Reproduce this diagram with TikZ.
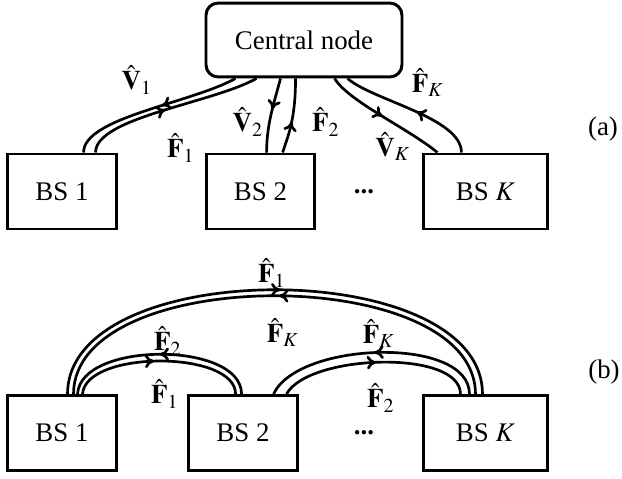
\documentclass[tikz,border=0pt]{standalone}
\usepackage{mathptmx}
\usepackage{fontspec}
\setmainfont{Liberation Serif}
\usetikzlibrary{calc,decorations.markings,arrows.meta}

\tikzset{
  px/.style={x=0.372pt,y=-0.372pt},
  box/.style={draw, line width=1.1pt, minimum height=27.9pt, inner sep=0pt},
  link/.style={line width=1pt},
  flowat/.style={postaction={decorate},
    decoration={markings,mark=at position #1 with {\arrow{To[length=3.4pt,width=5pt]}}}},
  lbl/.style={inner sep=0pt},
}

\begin{document}
\begin{tikzpicture}[px, font=\fontsize{10}{12}\selectfont]
\useasboundingbox (0,0) rectangle (622,479);

% ---------------- (a) star topology ----------------
\node[box, rounded corners=4.5pt, minimum width=72.9pt, minimum height=27.5pt] (cn) at (304,40) {Central node};
\node[box, minimum width=40.9pt] (a1) at (62,191.5) {BS 1};
\node[box, minimum width=40.5pt] (a2) at (260.5,191.5) {BS 2};
\node[box, minimum width=45.8pt] (aK) at (485.5,191.5) {BS $K$};
\node[lbl] (adots) at (364,192) {\textbf{...}};
\node[lbl] (atag) at (603,129) {(a)};

% end points on the borders
\coordinate (c1) at ($(cn.south west)+(31,0)$);
\coordinate (c2) at ($(cn.south west)+(52,0)$);
\coordinate (c3) at ($(cn.south west)+(76,0)$);
\coordinate (c4) at ($(cn.south west)+(91,0)$);
\coordinate (c5) at ($(cn.south west)+(130,0)$);
\coordinate (c6) at ($(cn.south west)+(143,0)$);
\coordinate (p1) at ($(a1.north west)+(78,0)$);
\coordinate (p2) at ($(a1.north west)+(90,0)$);
\coordinate (p3) at ($(a2.north west)+(62,0)$);
\coordinate (p4) at ($(a2.north west)+(78,0)$);
\coordinate (p5) at ($(aK.north west)+(15,0)$);
\coordinate (p6) at ($(aK.north west)+(39,0)$);

% V_1 down, F_1 up
\draw[link, flowat=0.45] (c1) .. controls ($(c1)+(-45,25)$) and ($(p1)+(0,-35)$) .. (p1);
\draw[link, flowat=0.47] (p2) .. controls ($(p2)+(0,-35)$) and ($(c2)+(-45,25)$) .. (c2);
% V_2 down, F_2 up
\draw[link, flowat=0.42] (c3) .. controls ($(c3)+(-6,23)$) and ($(p3)+(0,-29)$) .. (p3);
\draw[link, flowat=0.42] (p4) .. controls ($(p4)+(6,-18)$) and ($(c4)+(0,40)$) .. (c4);
% V_K down, F_K up
\draw[link, flowat=0.48] (c5) .. controls ($(c5)+(14,23)$) and ($(p5)+(-29,-24)$) .. (p5);
\draw[link, flowat=0.45] (p6) .. controls ($(p6)+(0,-35)$) and ($(c6)+(25,22)$) .. (c6);

\node[lbl] (lV1) at (137,80) {$\hat{\mathbf{V}}_1$};
\node[lbl] (lF1) at (181,148) {$\hat{\mathbf{F}}_1$};
\node[lbl] (lV2) at (248,122) {$\hat{\mathbf{V}}_2$};
\node[lbl] (lF2) at (326,122) {$\hat{\mathbf{F}}_2$};
\node[lbl] (lFK) at (428,83) {$\hat{\mathbf{F}}_K$};
\node[lbl] (lVK) at (393,147) {$\hat{\mathbf{V}}_K$};

% ---------------- (b) fully connected ----------------
\node[box, minimum width=40.9pt] (b1) at (62,433) {BS 1};
\node[box, minimum width=40.9pt] (b2) at (243,433) {BS 2};
\node[box, minimum width=45.8pt] (bK) at (485.5,433) {BS $K$};
\node[lbl] (bdots) at (364,433) {\textbf{...}};
\node[lbl] (btag) at (604,372) {(b)};

\coordinate (q1) at ($(b1.north west)+(62,0)$);
\coordinate (q2) at ($(b1.north west)+(68,0)$);
\coordinate (q3) at ($(b1.north west)+(72,0)$);
\coordinate (q4) at ($(b1.north west)+(77,0)$);
\coordinate (r1) at ($(b2.north west)+(49,0)$);
\coordinate (r2) at ($(b2.north west)+(55,0)$);
\coordinate (r3) at ($(b2.north west)+(87,0)$);
\coordinate (r4) at ($(b2.north west)+(100,0)$);
\coordinate (t1) at ($(bK.north west)+(38,0)$);
\coordinate (t2) at ($(bK.north west)+(47,0)$);
\coordinate (t3) at ($(bK.north west)+(53,0)$);
\coordinate (t4) at ($(bK.north west)+(60,0)$);

% BS 1 <-> BS K
\draw[link, flowat=0.51] (q1) .. controls ($(q1)+(0,-139)$) and ($(t4)+(0,-139)$) .. (t4);
\draw[link, flowat=0.49] (t3) .. controls ($(t3)+(0,-131)$) and ($(q2)+(0,-131)$) .. (q2);
% BS 1 <-> BS 2
\draw[link, flowat=0.5] (r2) .. controls ($(r2)+(0,-53)$) and ($(q3)+(3,-53)$) .. (q3);
\draw[link, flowat=0.47] (q4) .. controls ($(q4)+(3,-44)$) and ($(r1)+(0,-44)$) .. (r1);
% BS 2 <-> BS K
\draw[link, flowat=0.5] (t2) .. controls ($(t2)+(0,-58)$) and ($(r3)+(25,-53)$) .. (r3);
\draw[link, flowat=0.5] (r4) .. controls ($(r4)+(22,-40)$) and ($(t1)+(0,-45)$) .. (t1);

\node[lbl] (mF1) at (272,273) {$\hat{\mathbf{F}}_1$};
\node[lbl] (mFK) at (283,333) {$\hat{\mathbf{F}}_K$};
\node[lbl] (mF2) at (168,341) {$\hat{\mathbf{F}}_2$};
\node[lbl] (mF1b) at (165,394) {$\hat{\mathbf{F}}_1$};
\node[lbl] (mFKb) at (379,334) {$\hat{\mathbf{F}}_K$};
\node[lbl] (mF2b) at (381,398) {$\hat{\mathbf{F}}_2$};
\end{tikzpicture}
\end{document}
